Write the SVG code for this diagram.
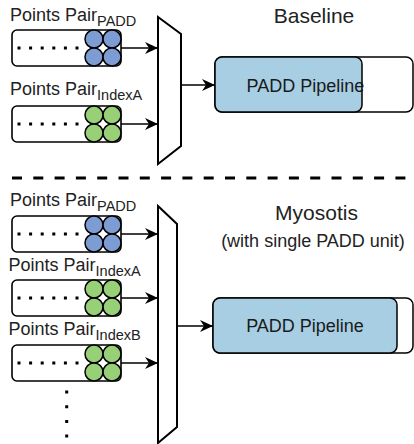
<svg xmlns="http://www.w3.org/2000/svg" width="414" height="444" viewBox="0 0 414 444">
  <style>
    .lbl { font-family: "Liberation Sans", Arial, sans-serif; font-size: 18px; fill: #222222; }
    .sub { font-size: 14.5px; }
    .title { font-family: "Liberation Sans", Arial, sans-serif; font-size: 21px; fill: #222222; text-anchor: middle; }
    .note { font-family: "Liberation Sans", Arial, sans-serif; font-size: 18px; fill: #222222; text-anchor: middle; }
    .queue { fill: #ffffff; stroke: #000000; stroke-width: 1.6; }
    .dots { stroke: #000000; stroke-width: 3; stroke-dasharray: 3 8.6; fill: none; }
    .blue { fill: #7d9cd3; stroke: #000000; stroke-width: 1.5; }
    .green { fill: #97d077; stroke: #000000; stroke-width: 1.5; }
    .mux { fill: #ffffff; stroke: #000000; stroke-width: 2; stroke-linejoin: miter; }
    .back { fill: #ffffff; stroke: #000000; stroke-width: 1.5; }
    .pipe { fill: #a7cee2; stroke: #000000; stroke-width: 1.5; }
    .ptxt { font-family: "Liberation Sans", Arial, sans-serif; font-size: 18px; fill: #1a1a1a; }
    .edge { stroke: #000000; stroke-width: 1.5; fill: none; marker-end: url(#arrow); }
    .sep { stroke: #000000; stroke-width: 3; stroke-dasharray: 10 11.3; fill: none; }
  </style>
  <defs>
    <marker id="arrow" viewBox="0 0 13 13" refX="13" refY="6.5" markerWidth="13" markerHeight="13" markerUnits="userSpaceOnUse" orient="auto">
      <path d="M0,0.5 L13,6.5 L0,12.5 L4,6.5 Z" fill="#000000"/>
    </marker>
    <!-- queue body: rounded box with a dotted row -->
    <g id="queueBody">
      <rect class="queue" x="12" y="0" width="109" height="36" rx="5"/>
      <line class="dots" x1="17.5" y1="18" x2="78.5" y2="18"/>
    </g>
    <g id="blueQuad">
      <circle class="blue" cx="94" cy="9" r="9"/>
      <circle class="blue" cx="112" cy="9" r="9"/>
      <circle class="blue" cx="94" cy="27" r="9"/>
      <circle class="blue" cx="112" cy="27" r="9"/>
    </g>
    <g id="greenQuad">
      <circle class="green" cx="94" cy="9" r="9"/>
      <circle class="green" cx="112" cy="9" r="9"/>
      <circle class="green" cx="94" cy="27" r="9"/>
      <circle class="green" cx="112" cy="27" r="9"/>
    </g>
  </defs>

  <rect x="0" y="0" width="414" height="444" fill="#ffffff"/>

  <!-- Baseline section -->
  <g id="title-baseline">
    <text class="title" x="314" y="23">Baseline</text>
  </g>

  <g id="queue-padd-top">
    <text class="lbl" x="10" y="21">Points Pair<tspan class="sub" dy="5">PADD</tspan></text>
    <g transform="translate(0,30)">
      <use href="#queueBody"/>
      <use href="#blueQuad"/>
    </g>
  </g>

  <g id="queue-indexa-top">
    <text class="lbl" x="10" y="95">Points Pair<tspan class="sub" dy="5">IndexA</tspan></text>
    <g transform="translate(0,106)">
      <use href="#queueBody"/>
      <use href="#greenQuad"/>
    </g>
  </g>

  <g id="mux-top">
    <polygon class="mux" points="158,17 181,34 181,146 158,164"/>
  </g>

  <g id="pipeline-top">
    <rect class="back" x="215" y="57" width="198" height="55" rx="7"/>
    <rect class="pipe" x="215" y="57" width="147" height="55" rx="7"/>
    <text class="ptxt" x="246.5" y="92">PADD Pipeline</text>
  </g>

  <!-- section divider -->
  <line class="sep" x1="12" y1="178" x2="414" y2="178"/>

  <!-- Myosotis section -->
  <g id="title-myosotis">
    <text class="title" x="316.5" y="220">Myosotis</text>
    <text class="note" x="313" y="247">(with single PADD unit)</text>
  </g>

  <g id="queue-padd-bottom">
    <text class="lbl" x="10" y="206">Points Pair<tspan class="sub" dy="5">PADD</tspan></text>
    <g transform="translate(0,216)">
      <use href="#queueBody"/>
      <use href="#blueQuad"/>
    </g>
  </g>

  <g id="queue-indexa-bottom">
    <text class="lbl" x="8.5" y="271">Points Pair<tspan class="sub" dy="5">IndexA</tspan></text>
    <g transform="translate(0,280)">
      <use href="#queueBody"/>
      <use href="#greenQuad"/>
    </g>
  </g>

  <g id="queue-indexb-bottom">
    <text class="lbl" x="8.5" y="335">Points Pair<tspan class="sub" dy="5">IndexB</tspan></text>
    <g transform="translate(0,345)">
      <use href="#queueBody"/>
      <use href="#greenQuad"/>
    </g>
  </g>

  <!-- more queues follow -->
  <g id="more-queues">
    <line x1="66.7" y1="390.5" x2="66.7" y2="438" stroke="#000000" stroke-width="3" stroke-dasharray="3 11.7"/>
  </g>

  <g id="mux-bottom">
    <polygon class="mux" points="158,206 177,224 177,427 158,443"/>
  </g>

  <g id="pipeline-bottom">
    <rect class="back" x="213" y="298" width="200" height="55" rx="7"/>
    <rect class="pipe" x="213" y="298" width="184" height="55" rx="7"/>
    <text class="ptxt" x="305" y="332" text-anchor="middle">PADD Pipeline</text>
  </g>

  <!-- connectors -->
  <g id="connectors">
    <line class="edge" x1="121" y1="48" x2="158" y2="48"/>
    <line class="edge" x1="121" y1="124" x2="158" y2="124"/>
    <line class="edge" x1="181" y1="85" x2="215" y2="85"/>
    <line class="edge" x1="121" y1="234" x2="158" y2="234"/>
    <line class="edge" x1="121" y1="298" x2="158" y2="298"/>
    <line class="edge" x1="121" y1="363" x2="158" y2="363"/>
    <line class="edge" x1="177" y1="326" x2="213" y2="326"/>
  </g>
</svg>
